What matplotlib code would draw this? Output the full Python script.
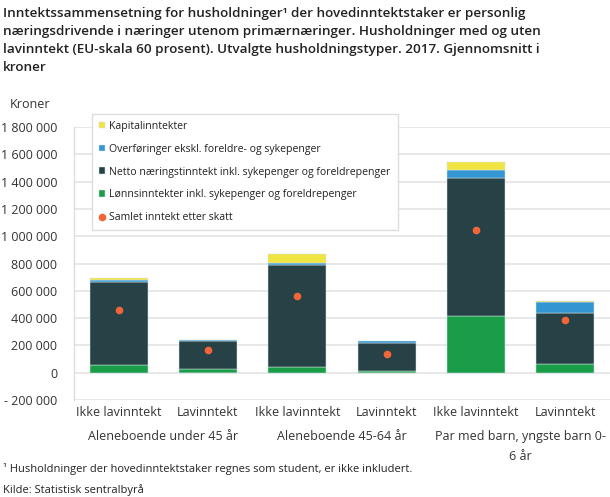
import numpy as np
import matplotlib
matplotlib.use('Agg')
import matplotlib.pyplot as plt
import matplotlib.ticker as mticker

plt.rcParams['font.family'] = ['Open Sans', 'DejaVu Sans']

# data (kroner)
categories = ['Ikke lavinntekt', 'Lavinntekt', 'Ikke lavinntekt', 'Lavinntekt', 'Ikke lavinntekt', 'Lavinntekt']
groups = ['Aleneboende under 45 år', 'Aleneboende 45-64 år', 'Par med barn, yngste barn 0-\n6 år']

lonn      = [56000, 24000, 44000, 15000, 416000, 63000]
naering   = [608000, 205000, 742000, 204000, 1007000, 375000]
overf     = [12000, 7000, 19000, 10000, 63000, 80000]
kapital   = [15000, -5000, 61000, -4000, 58000, 5000]
samlet    = [457000, 163000, 560000, 136000, 1046000, 389000]

series_names = ['Kapitalinntekter',
                'Overføringer ekskl. foreldre- og sykepenger',
                'Netto næringstinntekt inkl. sykepenger og foreldrepenger',
                'Lønnsinntekter inkl. sykepenger og foreldrepenger',
                'Samlet inntekt etter skatt']

c_kap = '#f0e442'
c_ovf = '#3396d2'
c_net = '#274247'
c_lon = '#1a9d49'
c_dot = '#f26539'

fig = plt.figure(figsize=(6.10, 4.97), dpi=100)
ax = fig.add_axes([74/610, 1-400/497, 536/610, 273/497])

x = np.arange(len(categories))
w = 0.65
lonn = np.array(lonn); naering = np.array(naering); overf = np.array(overf); kapital = np.array(kapital)

ec = '#d5e3e6'
lw = 0.35
b_lon = ax.bar(x, lonn, w, color=c_lon, edgecolor=ec, lw=lw, zorder=3)
b_net = ax.bar(x, naering, w, bottom=lonn, color=c_net, edgecolor=ec, lw=lw, zorder=3)
b_ovf = ax.bar(x, overf, w, bottom=lonn+naering, color=c_ovf, edgecolor=ec, lw=lw, zorder=3)
kap_bottom = np.where(kapital >= 0, lonn+naering+overf, 0)
b_kap = ax.bar(x, kapital, w, bottom=kap_bottom, color=c_kap, edgecolor=ec, lw=lw, zorder=3)
dots, = ax.plot(x, samlet, 'o', color=c_dot, ms=5.5, mec='none', ls='none', zorder=4)

ax.set_ylim(-200000, 1800000)
ax.set_xlim(-0.5, 5.5)
ax.yaxis.set_major_locator(mticker.MultipleLocator(200000))

def fmt(v, pos):
    s = f'{abs(int(round(v))):,}'.replace(',', ' ')
    return '- ' + s if v < 0 else s
ax.yaxis.set_major_formatter(mticker.FuncFormatter(fmt))

ax.grid(axis='y', color='#e6e6e6', lw=1.3, zorder=0)
ax.set_axisbelow(True)
for s in ['top', 'right', 'bottom']:
    ax.spines[s].set_visible(False)
ax.spines['left'].set_color('#dddddd')
ax.spines['left'].set_linewidth(1.0)
ax.tick_params(axis='y', length=0, pad=12, labelsize=9, colors='#333333')
ax.tick_params(axis='x', length=0, pad=4, labelsize=9, colors='#333333')
ax.set_xticks(x)
ax.set_xticklabels(categories)

for i, g in enumerate(groups):
    xc = (74 + (2*i+1)*89.33) / 610
    fig.text(xc, 1-430/497, g, ha='center', va='top', fontsize=9, color='#333333', linespacing=1.75)

fig.text(10/610, 1-104/497, 'Kroner', ha='left', va='center', fontsize=9, color='#333333')

title = ('Inntektssammensetning for husholdninger¹ der hovedinntektstaker er personlig\n'
         'næringsdrivende i næringer utenom primærnæringer. Husholdninger med og uten\n'
         'lavinntekt (EU-skala 60 prosent). Utvalgte husholdningstyper. 2017. Gjennomsnitt i\n'
         'kroner')
fig.text(3/610, 1-7/497, title, ha='left', va='top', fontsize=9.7, fontweight='semibold',
         color='#222222', linespacing=1.5)

fig.text(3/610, 1-469/497, '¹ Husholdninger der hovedinntektstaker regnes som student, er ikke inkludert.',
         ha='left', va='center', fontsize=8, color='#222222')
fig.text(3/610, 1-490/497, 'Kilde: Statistisk sentralbyrå', ha='left', va='center', fontsize=8, color='#222222')

handles = [b_kap, b_ovf, b_net, b_lon, dots]
leg = ax.legend(handles, series_names, loc='upper left', bbox_to_anchor=(18/536, 1+13/273),
                fontsize=7.6, frameon=True, fancybox=False, framealpha=1, edgecolor='#dddddd',
                handlelength=0.6, handleheight=0.6, handletextpad=0.4, labelspacing=1.12,
                borderpad=0.65, borderaxespad=0)
leg.get_frame().set_linewidth(1.0)
for t in leg.get_texts():
    t.set_color('#222222')

fig.savefig('out.png', dpi=100)
